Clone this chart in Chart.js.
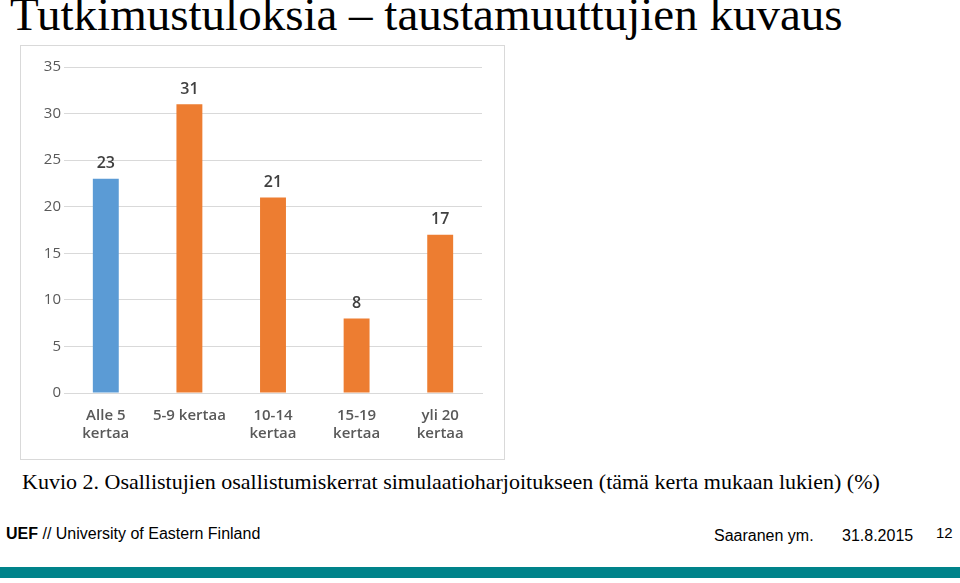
<!DOCTYPE html>
<html><head><meta charset="utf-8">
<script src="https://cdn.jsdelivr.net/npm/chart.js@4"></script>
<style>
body{margin:0;width:960px;height:583px;position:relative;background:#fff;overflow:hidden;font-family:"Liberation Serif",serif}
#title{position:absolute;left:10px;top:-13px;font-size:47px;color:#000;white-space:nowrap}
#box{position:absolute;left:20px;top:45px;width:485px;height:415px;border:1px solid #d9d9d9;box-sizing:border-box}
#cap{position:absolute;left:22px;top:469px;font-size:22px;white-space:nowrap}
.f{position:absolute;font-family:"Liberation Sans",sans-serif;font-size:16px;top:525px;white-space:nowrap}
#bar{position:absolute;left:0;top:567px;width:960px;height:11px;background:#00838a}
</style></head><body>
<div id="title">Tutkimustuloksia – taustamuuttujien kuvaus</div>
<div id="box"><canvas id="c" width="483" height="413"></canvas></div>
<div id="cap">Kuvio 2. Osallistujien osallistumiskerrat simulaatioharjoitukseen (tämä kerta mukaan lukien) (%)</div>
<div class="f" style="left:6px"><b>UEF</b> // University of Eastern Finland</div>
<div class="f" style="left:714px;top:527px">Saaranen ym.</div>
<div class="f" style="left:842px;top:527px">31.8.2015</div>
<div class="f" style="left:936px;top:524px;font-size:15px">12</div>
<div id="bar"></div>
<script>
const categories=[["Alle 5","kertaa"],["5-9 kertaa"],["10-14","kertaa"],["15-19","kertaa"],["yli 20","kertaa"]];
const values=[23,31,21,8,17];
const colors=["#5b9bd5","#ed7d31","#ed7d31","#ed7d31","#ed7d31"];
const labelsPlugin={id:'vl',afterDatasetsDraw(ch){const ctx=ch.ctx;const m=ch.getDatasetMeta(0);ctx.save();ctx.font='600 16px "Open Sans",sans-serif';ctx.fillStyle='#404040';ctx.textAlign='center';ctx.textBaseline='bottom';m.data.forEach((b,i)=>ctx.fillText(values[i],b.x,b.y-7));ctx.restore();}};
new Chart(document.getElementById('c'),{type:'bar',
data:{labels:categories,datasets:[{data:values,backgroundColor:colors,barPercentage:0.31,categoryPercentage:1}]},
options:{responsive:false,animation:false,layout:{padding:{top:21,right:22,left:0,bottom:0}},
plugins:{legend:{display:false},tooltip:{enabled:false}},
scales:{y:{min:0,max:35,ticks:{stepSize:5,color:'#595959',font:{size:15,family:'"Open Sans",sans-serif'}},grid:{color:'#d9d9d9',drawTicks:false},border:{display:false},afterFit(s){s.width=43;}},
x:{grid:{display:false},border:{color:'#d9d9d9'},ticks:{color:'#595959',font:{size:15,weight:'600',family:'"Open Sans",sans-serif'},padding:6},afterFit(s){s.height=66;}}}},
plugins:[labelsPlugin]});
</script></body></html>
